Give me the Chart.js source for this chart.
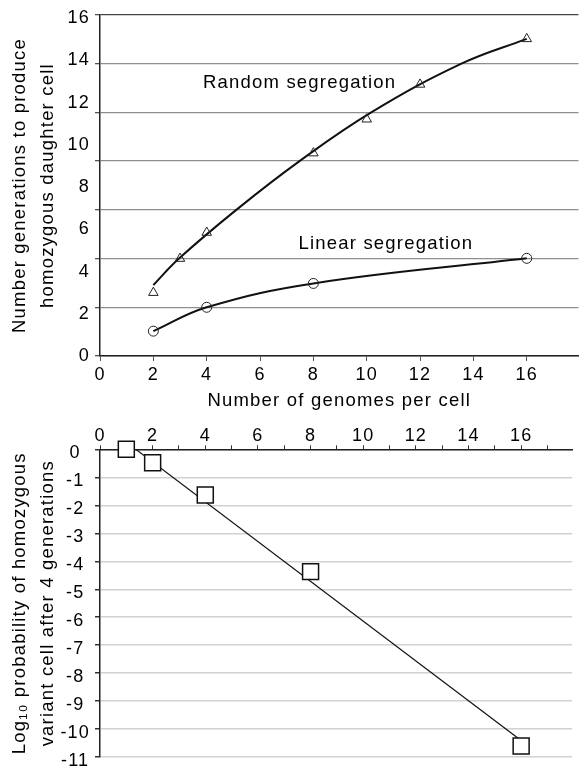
<!DOCTYPE html>
<html>
<head>
<meta charset="utf-8">
<script src="https://cdn.jsdelivr.net/npm/chart.js@4.4.1/dist/chart.umd.min.js"></script>
<style>
  html, body { margin: 0; padding: 0; background: #fff; }
  #top-wrap { position: absolute; left: 0; top: 0; width: 585px; height: 415px; }
  #bottom-wrap { position: absolute; left: 0; top: 415px; width: 585px; height: 355px; }
</style>
</head>
<body>
<div id="top-wrap"><canvas id="segregationChart"></canvas></div>
<div id="bottom-wrap"><canvas id="probabilityChart"></canvas></div>
<script>
// top panel: generations needed for a homozygous daughter cell
const genomesRandom = [2, 3, 4, 8, 10, 12, 16];
const generationsRandom = [2.6, 4.0, 5.07, 8.33, 9.72, 11.15, 13.02];
// fitted curve, read where it crosses the grid lines
const genomesRandomFit = [2, 2.96, 5.11, 7.48, 10.17, 13.55, 16];
const generationsRandomFit = [2.91, 4, 6, 8, 10, 12, 13.02];
const genomesLinear = [2, 4, 8, 16];
const generationsLinear = [1.02, 2.0, 2.98, 4.01];
const topXTicks = [0, 2, 4, 6, 8, 10, 12, 14, 16];
const topYLabels = [0, 2, 4, 6, 8, 10, 12, 14, 16];

// bottom panel: log10 probability after 4 generations
const genomesBottom = [1, 2, 4, 8, 16];
const logProbability = [0, -0.48, -1.63, -4.37, -10.6];
const genomesBottomFit = [1.36, 16];
const logProbabilityFit = [0, -10.4];
const bottomXLabels = [0, 2, 4, 6, 8, 10, 12, 14, 16];

const FONT = "'Liberation Sans', Arial, sans-serif";
const SPACING = "1.2px";

Chart.defaults.font.family = FONT;
Chart.defaults.font.size = 18;
Chart.defaults.color = "#000";

function toPoints(xs, ys) {
  return xs.map((x, i) => ({ x: x, y: ys[i] }));
}

// text in the figure is a bit wider than plain Arial
const spacingPlugin = {
  id: "spacing",
  beforeLayout(chart) { chart.ctx.letterSpacing = SPACING; },
  beforeDraw(chart) { chart.ctx.letterSpacing = SPACING; }
};

const segLabels = [
  { text: "Random segregation", x: 3.86, y: 11.2 },
  { text: "Linear segregation", x: 7.44, y: 4.6 }
];

const segLabelPlugin = {
  id: "segLabels",
  afterDatasetsDraw(chart) {
    const { ctx, scales } = chart;
    ctx.save();
    ctx.letterSpacing = SPACING;
    ctx.font = "18.5px " + FONT;
    ctx.fillStyle = "#000";
    ctx.textBaseline = "middle";
    ctx.textAlign = "left";
    segLabels.forEach(l => {
      ctx.fillText(l.text, scales.x.getPixelForValue(l.x), scales.y.getPixelForValue(l.y));
    });
    ctx.restore();
  }
};

new Chart(document.getElementById("segregationChart"), {
  type: "scatter",
  data: {
    datasets: [
      {
        label: "Random segregation",
        data: toPoints(genomesRandom, generationsRandom),
        showLine: false,
        pointStyle: "triangle",
        pointRadius: 5.5,
        pointBorderWidth: 1,
        pointBorderColor: "#222",
        pointBackgroundColor: "rgba(0,0,0,0)",
        clip: false,
        order: 0
      },
      {
        label: "Random fit",
        data: toPoints(genomesRandomFit, generationsRandomFit),
        showLine: true,
        tension: 0.4,
        borderColor: "#111",
        borderWidth: 2,
        pointRadius: 0,
        order: 1
      },
      {
        label: "Linear segregation",
        data: toPoints(genomesLinear, generationsLinear),
        showLine: true,
        tension: 0.4,
        borderColor: "#111",
        borderWidth: 2,
        pointStyle: "circle",
        pointRadius: 5,
        pointBorderWidth: 1,
        pointBorderColor: "#222",
        pointBackgroundColor: "rgba(0,0,0,0)",
        clip: false,
        order: 0
      }
    ]
  },
  options: {
    responsive: true,
    maintainAspectRatio: false,
    animation: false,
    events: [],
    layout: { padding: { top: 15, left: 0, right: 0, bottom: 0 } },
    plugins: { legend: { display: false }, tooltip: { enabled: false } },
    scales: {
      x: {
        type: "linear",
        position: "bottom",
        min: 0,
        max: 17.94,
        afterBuildTicks: s => { s.ticks = topXTicks.map(v => ({ value: v })); },
        afterFit: s => { s.height = 59; },
        ticks: { padding: 3, maxRotation: 0, autoSkip: false },
        grid: { drawOnChartArea: false, tickLength: 5, tickColor: "#555" },
        border: { color: "#222", width: 1.5 },
        title: {
          display: true,
          text: "Number of genomes per cell",
          font: { size: 18.5 },
          padding: { top: 0, bottom: 3 }
        }
      },
      y: {
        type: "linear",
        position: "left",
        min: 0,
        max: 14,
        ticks: { stepSize: 2, display: false },
        afterFit: s => { s.width = 5; s.paddingTop = 0; s.paddingBottom = 0; },
        grid: {
          color: c => (c.tick && c.tick.value === 14 ? "#444" : "#8f8f8f"),
          lineWidth: 1.3,
          tickLength: 5,
          tickColor: "#555"
        },
        border: { color: "#222", width: 1.5 }
      },
      y2: {
        type: "linear",
        position: "left",
        min: 0,
        max: 16.15,
        afterBuildTicks: s => { s.ticks = topYLabels.map(v => ({ value: v })); },
        afterFit: s => { s.width = 95; s.paddingTop = 0; s.paddingBottom = 0; },
        ticks: { padding: 5 },
        grid: { display: false, drawTicks: false },
        border: { display: false },
        title: {
          display: true,
          text: ["Number generations to produce", "homozygous daughter cell"],
          font: { size: 18.5, lineHeight: 1.51 },
          padding: { top: 6, bottom: 0 }
        }
      }
    }
  },
  plugins: [spacingPlugin, segLabelPlugin]
});

new Chart(document.getElementById("probabilityChart"), {
  type: "scatter",
  data: {
    datasets: [
      {
        label: "Log10 probability",
        data: toPoints(genomesBottom, logProbability),
        showLine: false,
        pointStyle: "rect",
        pointRadius: 11.3,
        pointBorderWidth: 1.5,
        pointBorderColor: "#111",
        pointBackgroundColor: "#fff",
        clip: false,
        order: 0
      },
      {
        label: "Fit",
        data: toPoints(genomesBottomFit, logProbabilityFit),
        showLine: true,
        borderColor: "#111",
        borderWidth: 1.2,
        pointRadius: 0,
        order: 1
      }
    ]
  },
  options: {
    responsive: true,
    maintainAspectRatio: false,
    animation: false,
    events: [],
    layout: { padding: { top: 0, left: 0, right: 0, bottom: 12.7 } },
    plugins: { legend: { display: false }, tooltip: { enabled: false } },
    scales: {
      x: {
        type: "linear",
        position: "top",
        min: 0,
        max: 17.94,
        afterBuildTicks: s => { s.ticks = Array.from({ length: 18 }, (_, i) => ({ value: i })); },
        afterFit: s => { s.height = 34.3; },
        ticks: {
          padding: 0,
          maxRotation: 0,
          autoSkip: false,
          font: { size: 18, lineHeight: 1 },
          callback: v => (bottomXLabels.includes(v) ? String(v) : "")
        },
        grid: { drawOnChartArea: false, tickLength: 4, tickColor: "#333" },
        border: { color: "#222", width: 1.5 }
      },
      y: {
        type: "linear",
        position: "left",
        min: -11,
        max: 0,
        ticks: {
          stepSize: 1,
          padding: 5,
          crossAlign: "center",
          labelOffset: 4,
          callback: v => String(v)
        },
        afterFit: s => { s.width = 100; s.paddingTop = 0; s.paddingBottom = 0; },
        grid: { color: "#d2d2d2", lineWidth: 1.5, tickLength: 5, tickColor: "#333" },
        border: { color: "#222", width: 1.5 },
        title: {
          display: true,
          text: ["Log\u2081\u2080 probability of homozygous", "variant cell after 4 generations"],
          font: { size: 18.5, lineHeight: 1.51 },
          padding: { top: 6, bottom: 0 }
        }
      }
    }
  },
  plugins: [spacingPlugin]
});
</script>
</body>
</html>
